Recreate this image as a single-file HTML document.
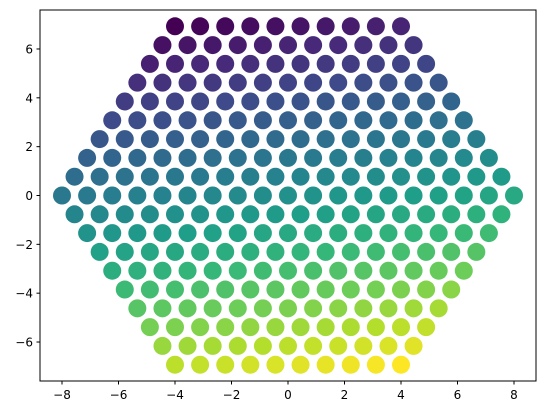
<!DOCTYPE html>
<html><head><meta charset="utf-8"><style>
html,body{margin:0;padding:0;background:#fff;}
svg{display:block;font-family:"DejaVu Sans","Liberation Sans",sans-serif;}
</style></head><body>
<svg id="chart" width="546" height="413">
<rect x="40" y="10" width="496" height="371" fill="none" stroke="#000" stroke-width="1"/>
<g id="pts"></g>
<g id="xt"></g>
<g id="yt"></g>
</svg>
<script>
const rowY = [6.93,6.16,5.39,4.62,3.85,3.08,2.31,1.54,0.77,0,-0.77,-1.54,-2.31,-3.08,-3.85,-4.62,-5.39,-6.16,-6.93];
const rowXMin = [-4,-4.444,-4.889,-5.333,-5.778,-6.222,-6.667,-7.111,-7.556,-8,-7.556,-7.111,-6.667,-6.222,-5.778,-5.333,-4.889,-4.444,-4];
const rowCount = [10,11,12,13,14,15,16,17,18,19,18,17,16,15,14,13,12,11,10];
const xStep = 0.8889;
const xTicks = [-8,-6,-4,-2,0,2,4,6,8];
const yTicks = [-6,-4,-2,0,2,4,6];
const NS="http://www.w3.org/2000/svg";
const sx = v => 288 + v*28.25;
const sy = v => 195.5 - v*24.42;
const vir = [[68,1,84],[72,40,120],[62,74,137],[49,104,142],[38,130,142],[31,158,137],[53,183,121],[109,205,89],[180,222,44],[253,231,37]];
function viridis(t){t=Math.max(0,Math.min(1,t));const f=t*(vir.length-1);const i=Math.min(vir.length-2,Math.floor(f));const r=f-i;
const c=vir[i].map((a,k)=>Math.round(a+(vir[i+1][k]-a)*r));return `rgb(${c[0]},${c[1]},${c[2]})`;}
const pts=document.getElementById('pts');
const all=[];
rowY.forEach((y,k)=>{for(let i=0;i<rowCount[k];i++){all.push([rowXMin[k]+i*xStep,y]);}});
const vals=all.map(p=>0.19*p[0]-p[1]);
const mn=Math.min(...vals),mx=Math.max(...vals);
all.forEach((p,i)=>{const c=document.createElementNS(NS,'circle');
c.setAttribute('cx',sx(p[0]));c.setAttribute('cy',sy(p[1]));c.setAttribute('r',9);
c.setAttribute('fill',viridis((vals[i]-mn)/(mx-mn)));


pts.appendChild(c);});
const xt=document.getElementById('xt');
xTicks.forEach(v=>{const x=sx(v);
const l=document.createElementNS(NS,'line');l.setAttribute('x1',x);l.setAttribute('x2',x);l.setAttribute('y1',381);l.setAttribute('y2',384.5);l.setAttribute('stroke','#000');


xt.appendChild(l);
const t=document.createElementNS(NS,'text');t.setAttribute('x',x);t.setAttribute('y',399);t.setAttribute('text-anchor','middle');t.setAttribute('font-size','12');
t.textContent=v<0?'\u2212'+(-v):String(v);


xt.appendChild(t);});
const yt=document.getElementById('yt');
yTicks.forEach(v=>{const y=sy(v);
const l=document.createElementNS(NS,'line');l.setAttribute('x1',36.5);l.setAttribute('x2',40);l.setAttribute('y1',y);l.setAttribute('y2',y);l.setAttribute('stroke','#000');


yt.appendChild(l);
const t=document.createElementNS(NS,'text');t.setAttribute('x',33);t.setAttribute('y',y+4.5);t.setAttribute('text-anchor','end');t.setAttribute('font-size','12');
t.textContent=v<0?'\u2212'+(-v):String(v);


yt.appendChild(t);});
</script>
</body></html>
